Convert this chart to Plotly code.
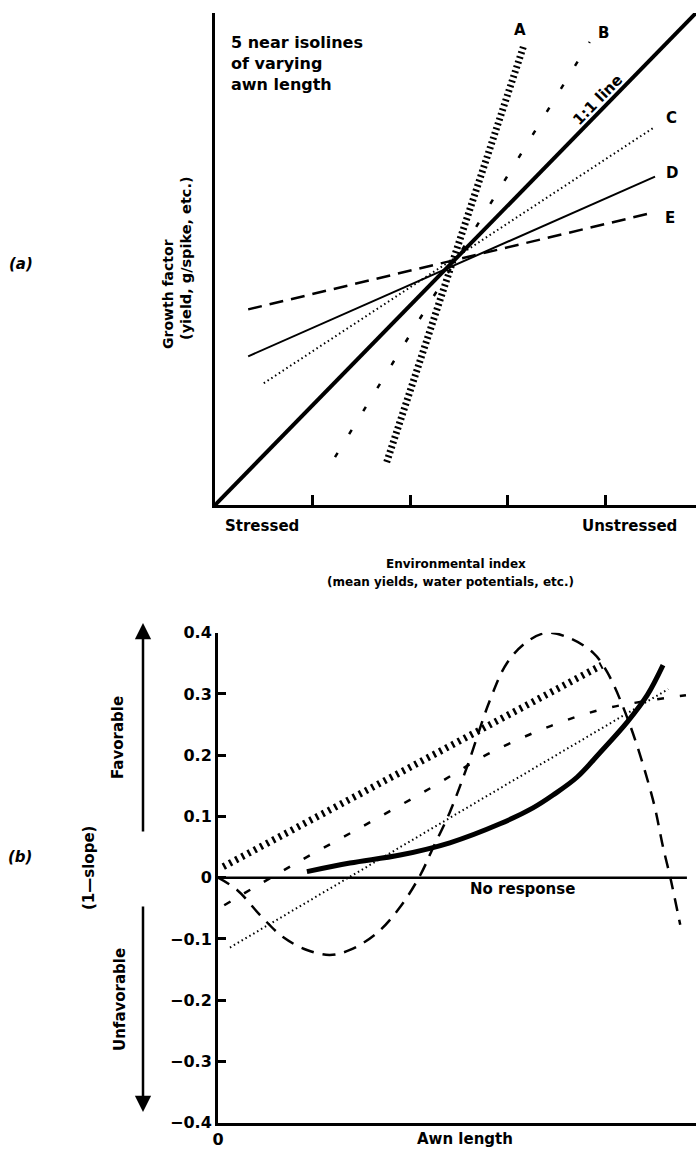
import plotly.graph_objects as go

W, H = 696, 1149
FONT = "DejaVu Sans"

# ---------------- Panel (a): growth factor vs environmental index ----------------
env_ticks = [1, 2, 3, 4]
a_A_x = [1.76, 3.16]; a_A_y = [0.43, 4.59]
a_B_x = [1.23, 3.84]; a_B_y = [0.48, 4.64]
a_11_x = [0.0, 4.93]; a_11_y = [0.0, 4.93]
a_C_x = [0.50, 4.51]; a_C_y = [1.22, 3.79]
a_D_x = [0.34, 4.51]; a_D_y = [1.49, 3.29]
a_E_x = [0.34, 4.49]; a_E_y = [1.96, 2.93]
label_names = ["A", "B", "C", "D", "E"]
label_x = [3.13, 3.98, 4.68, 4.68, 4.66]
label_y = [4.76, 4.73, 3.88, 3.33, 2.88]

# ---------------- Panel (b): (1-slope) vs awn length ----------------
b_ticks = [-0.4, -0.3, -0.2, -0.1, 0, 0.1, 0.2, 0.3, 0.4]
b_ticktext = ["\u22120.4", "\u22120.3", "\u22120.2", "\u22120.1", "0", "0.1", "0.2", "0.3", "0.4"]
b_A_x = [0.11, 8.03]; b_A_y = [0.018, 0.347]
b_B_x = [0.13, 1.57, 3.03, 4.44, 5.65, 6.97, 7.99, 8.83, 9.79]
b_B_y = [-0.045, 0.021, 0.084, 0.146, 0.202, 0.248, 0.274, 0.287, 0.298]
b_C_x = [0.25, 9.42]; b_C_y = [-0.114, 0.308]
b_D_x = [1.86, 2.76, 3.81, 4.85, 5.90, 6.59, 7.01, 7.51, 7.99, 8.56, 8.98, 9.31]
b_D_y = [0.010, 0.024, 0.037, 0.057, 0.088, 0.114, 0.135, 0.164, 0.204, 0.254, 0.298, 0.347]
b_E_x = [0.0, 0.40, 0.88, 1.36, 1.86, 2.34, 2.76, 3.33, 3.81, 4.23, 4.50, 4.85, 5.21,
         5.69, 6.05, 6.46, 6.88, 7.36, 7.85, 8.14, 8.62, 9.10, 9.31, 9.46, 9.67]
b_E_y = [0.0, -0.020, -0.061, -0.097, -0.118, -0.126, -0.118, -0.090, -0.048, 0.004, 0.049,
         0.107, 0.181, 0.290, 0.351, 0.385, 0.400, 0.391, 0.367, 0.336, 0.249, 0.127, 0.050,
         0.001, -0.077]
b_zero_x = [0.0, 9.81]; b_zero_y = [0.0, 0.0]


def px(x):
    return x / W


def py(y):
    return 1 - y / H


fig = go.Figure()


def add(x, y, width, dash="solid", xa="x", ya="y", shape="linear"):
    fig.add_trace(go.Scatter(x=x, y=y, mode="lines", xaxis=xa, yaxis=ya,
                             line=dict(color="black", width=width, dash=dash, shape=shape),
                             showlegend=False, hoverinfo="skip"))


# panel (a) lines
add(a_E_x, a_E_y, 2.5, "14px,8px")
add(a_D_x, a_D_y, 2)
add(a_C_x, a_C_y, 2, "1.5px,3px")
add(a_B_x, a_B_y, 2.5, "5px,22px")
add(a_11_x, a_11_y, 4)
add(a_A_x, a_A_y, 7, "2px,3px")

# panel (b) lines
add(b_zero_x, b_zero_y, 2.5, "solid", "x2", "y2")
add(b_E_x, b_E_y, 2.5, "13px,9px", "x2", "y2", "spline")
add(b_C_x, b_C_y, 2, "1.5px,3px", "x2", "y2")
add(b_B_x, b_B_y, 2.5, "7px,16px", "x2", "y2", "spline")
add(b_D_x, b_D_y, 5, "solid", "x2", "y2", "spline")
add(b_A_x, b_A_y, 7, "2.5px,4.5px", "x2", "y2")

annotations = []


def txt(text, x, y, size=15, xref="paper", yref="paper", angle=0, xanchor="center",
        yanchor="middle", align="center"):
    annotations.append(dict(text=text, x=x, y=y, xref=xref, yref=yref, showarrow=False,
                            textangle=angle, xanchor=xanchor, yanchor=yanchor, align=align,
                            font=dict(family=FONT, size=size, color="black")))


for n, lx, ly in zip(label_names, label_x, label_y):
    txt("<b>%s</b>" % n, lx, ly, 15, "x", "y")
txt("<b>1:1 line</b>", 3.92, 4.06, 15, "x", "y", angle=-45.6)
txt("<b>5 near isolines<br>of varying<br>awn length</b>", px(229), py(31), 16,
    xanchor="left", yanchor="top", align="left")
txt("<b>Stressed</b>", px(262), py(526), 15)
txt("<b>Unstressed</b>", px(629), py(526), 15)
txt("<b>Environmental index</b>", px(456), py(564), 12)
txt("<b>(mean yields, water potentials, etc.)</b>", px(450), py(582), 12)
txt("<b>Growth factor</b>", px(168), py(294), 14, angle=-90)
txt("<b>(yield, g/spike, etc.)</b>", px(186), py(258), 14.5, angle=-90)
txt("<b><i>(a)</i></b>", px(21), py(264), 15)

txt("<b><i>(b)</i></b>", px(20), py(857), 15)
txt("<b>(1\u2014slope)</b>", px(89), py(868), 15, angle=-90)
txt("<b>Favorable</b>", px(118), py(737), 15, angle=-90)
txt("<b>Unfavorable</b>", px(120), py(1000), 15, angle=-90)
txt("<b>No response</b>", px(522), py(889), 15)
txt("<b>Awn length</b>", px(465), py(1139), 15)

# arrows
annotations.append(dict(x=px(143), y=py(623), xref="paper", yref="paper", text="",
                        showarrow=True, ax=0, ay=210, axref="pixel", ayref="pixel",
                        arrowhead=2, arrowsize=1.3, arrowwidth=2.5, arrowcolor="black",
                        standoff=0, startstandoff=0))
annotations.append(dict(x=px(143), y=py(1112), xref="paper", yref="paper", text="",
                        showarrow=True, ax=0, ay=-207, axref="pixel", ayref="pixel",
                        arrowhead=2, arrowsize=1.3, arrowwidth=2.5, arrowcolor="black",
                        standoff=0, startstandoff=0))

tickfont = dict(family=FONT, size=16, color="black")

fig.update_layout(
    width=W, height=H,
    margin=dict(l=0, r=0, t=0, b=0),
    paper_bgcolor="white", plot_bgcolor="white",
    annotations=annotations,
    xaxis=dict(domain=[px(215), 1], range=[0, 4.93], anchor="y", showline=True,
               linecolor="black", linewidth=3, showgrid=False, zeroline=False,
               ticks="inside", tickvals=env_ticks, ticklen=10, tickwidth=2.5,
               tickcolor="black", showticklabels=False, automargin=False, fixedrange=True),
    yaxis=dict(domain=[py(505), py(13)], range=[0, 4.93], anchor="x", showline=True,
               linecolor="black", linewidth=3, showgrid=False, zeroline=False,
               ticks="", showticklabels=False, automargin=False, fixedrange=True),
    xaxis2=dict(domain=[px(218), 1], range=[0, 10], anchor="y2", showline=True,
                linecolor="black", linewidth=3, showgrid=False, zeroline=False,
                ticks="", tickvals=[0], ticktext=["<b>0</b>"], tickfont=tickfont,
                automargin=False, fixedrange=True),
    yaxis2=dict(domain=[py(1122.7), py(632.7)], range=[-0.4, 0.4], anchor="x2",
                showline=True, linecolor="black", linewidth=3, showgrid=False,
                zeroline=False, ticks="inside", ticklen=8, tickwidth=3, tickcolor="black",
                tickvals=b_ticks, ticktext=["<b>%s</b>" % t for t in b_ticktext],
                tickfont=tickfont, automargin=False, fixedrange=True),
)

fig.write_html("out.html", config={"displayModeBar": False},
               post_script="document.body.style.margin='0';document.body.style.overflow='hidden';")
